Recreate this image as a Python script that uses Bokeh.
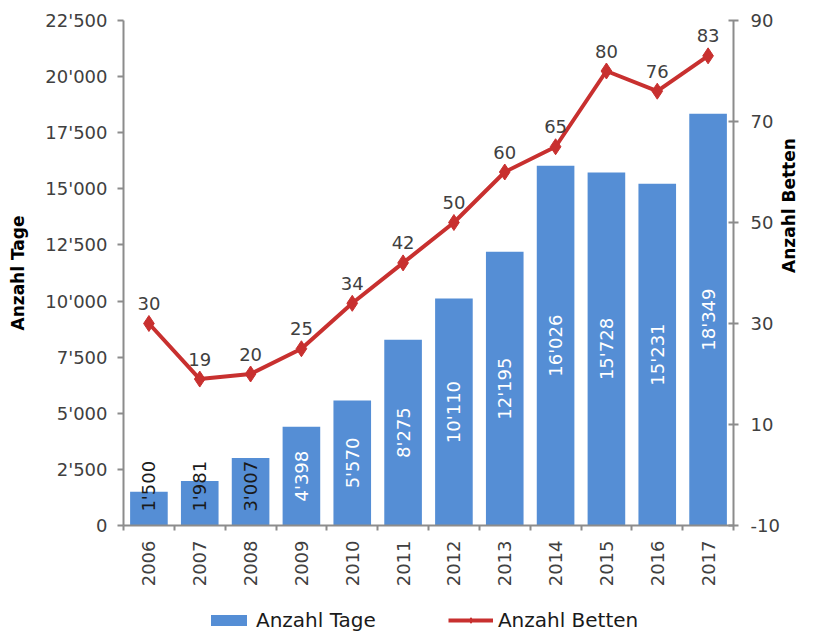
import math
from bokeh.plotting import figure
from bokeh.layouts import column
from bokeh.models import (Range1d, LinearAxis, FixedTicker, Legend, LegendItem,
                          ColumnDataSource)
from bokeh.core.properties import value
from bokeh.embed import file_html
from bokeh.resources import INLINE

# ---- data ----
years = [2006, 2007, 2008, 2009, 2010, 2011, 2012, 2013, 2014, 2015, 2016, 2017]
tage = [1500, 1981, 3007, 4398, 5570, 8275, 10110, 12195, 16026, 15728, 15231, 18349]
betten = [30, 19, 20, 25, 34, 42, 50, 60, 65, 80, 76, 83]
left_ticks = [0, 2500, 5000, 7500, 10000, 12500, 15000, 17500, 20000, 22500]
left_tick_labels = ["0", "2'500", "5'000", "7'500", "10'000", "12'500",
                    "15'000", "17'500", "20'000", "22'500"]
right_ticks = [-10, 10, 30, 50, 70, 90]
right_tick_labels = ["-10", "10", "30", "50", "70", "90"]

FONT = "DejaVu Sans"
BAR = "#558ed5"
RED = "#c8302f"
AXIS = "#8c8c8c"
TXT = "#404040"

def fmt(v):
    return f"{v:,}".replace(",", "'")

xpos = list(range(1, len(years) + 1))
MIN_CENTER = 1750  # labels of short bars are lifted so they stay readable
src = ColumnDataSource(dict(
    x=xpos,
    tage=tage,
    betten=betten,
    tage_label=[fmt(v) for v in tage],
    tage_label_y=[max(v / 2, MIN_CENTER) for v in tage],
    tage_label_color=["white" if v > 4000 else "#1a1a1a" for v in tage],
    betten_label=[str(v) for v in betten],
))

W = 814
p = figure(width=W, height=597, x_range=Range1d(0.5, len(years) + 0.5),
           y_range=Range1d(left_ticks[0], left_ticks[-1]),
           output_backend="svg", toolbar_location=None,
           min_border_left=123, min_border_right=81, min_border_top=20,
           min_border_bottom=72)
p.outline_line_color = None
p.xgrid.visible = False
p.ygrid.visible = False
p.extra_y_ranges = {"betten": Range1d(right_ticks[0], right_ticks[-1])}

def style_axis(ax):
    ax.axis_line_color = AXIS
    ax.axis_line_width = 2
    ax.major_tick_line_color = AXIS
    ax.major_tick_line_width = 2
    ax.minor_tick_line_color = None
    ax.major_label_text_color = TXT
    ax.major_label_text_font = FONT
    ax.major_label_text_font_size = "18px"
    ax.axis_label_text_font = FONT
    ax.axis_label_text_font_size = "17px"
    ax.axis_label_text_font_style = "bold"
    ax.axis_label_text_color = "black"

# x axis
xa = p.xaxis[0]
style_axis(xa)
xa.ticker = FixedTicker(ticks=xpos, minor_ticks=[i + 0.5 for i in range(len(years) + 1)])
xa.major_label_overrides = {i: str(y) for i, y in zip(xpos, years)}
xa.major_label_orientation = math.pi / 2
xa.major_tick_out = 0
xa.major_tick_in = 0
xa.minor_tick_line_color = AXIS
xa.minor_tick_line_width = 2
xa.minor_tick_out = 5
xa.minor_tick_in = 0
xa.major_label_standoff = 10

# left axis
ya = p.yaxis[0]
style_axis(ya)
ya.ticker = FixedTicker(ticks=left_ticks)
ya.major_label_overrides = {t: l for t, l in zip(left_ticks, left_tick_labels)}
ya.major_tick_out = 6
ya.major_tick_in = 0
ya.major_label_standoff = 10
ya.axis_label = "Anzahl Tage"
ya.axis_label_standoff = 14

# right axis (ticks and numbers)
ra = LinearAxis(y_range_name="betten", ticker=FixedTicker(ticks=right_ticks))
style_axis(ra)
ra.major_label_overrides = {t: l for t, l in zip(right_ticks, right_tick_labels)}
ra.major_tick_out = 5
ra.major_tick_in = 5
ra.major_label_standoff = 12
p.add_layout(ra, "right")

# right axis title, reading upwards; its start sits a bit below the middle
TITLE_BOUNDS = (-10, 56)
rt = LinearAxis(y_range_name="betten", ticker=FixedTicker(ticks=[]),
                bounds=TITLE_BOUNDS)
style_axis(rt)
rt.axis_line_color = None
rt.major_tick_line_color = None
rt.major_tick_out = 0
rt.major_tick_in = 0
rt.axis_label = "Anzahl Betten"
rt.axis_label_standoff = 6
rt.axis_label_orientation = math.pi / 2
p.add_layout(rt, "right")

# bars
bars = p.vbar(x="x", top="tage", width=0.74, source=src,
              fill_color=BAR, line_color=None)
p.text(x="x", y="tage_label_y", text="tage_label", source=src,
       angle=math.pi / 2, text_align="center", text_baseline="middle",
       text_color="tage_label_color", text_font=value(FONT), text_font_size="18px")

# line
line = p.line(x="x", y="betten", source=src, y_range_name="betten",
              line_color=RED, line_width=4)
marks = p.scatter(x="x", y="betten", source=src, y_range_name="betten",
                  marker="diamond", size=16, fill_color=RED, line_color=RED)
p.text(x="x", y="betten", text="betten_label", source=src, y_range_name="betten",
       text_align="center", text_baseline="alphabetic", y_offset=-20,
       text_color=TXT, text_font=value(FONT), text_font_size="18px")

# legend strip below the chart: same series as hidden renderers, only the legend shows
lg = figure(width=W, height=35, x_range=p.x_range, y_range=Range1d(-2, -1),
            output_backend="svg", toolbar_location=None,
            x_axis_location=None, y_axis_location=None, min_border=0)
lg.outline_line_color = None
lg.xgrid.visible = False
lg.ygrid.visible = False
lbar = lg.vbar(x="x", top="tage", width=0.74, source=src, fill_color=BAR, line_color=None)
lline = lg.line(x="x", y="betten", source=src, line_color=RED, line_width=4)
lmark = lg.scatter(x="x", y="betten", source=src, marker="diamond", size=16,
                   fill_color=RED, line_color=RED)
for r in (lbar, lline, lmark):
    r.visible = False
legend = Legend(items=[LegendItem(label="Anzahl Tage", renderers=[lbar]),
                       LegendItem(label="Anzahl Betten", renderers=[lline, lmark])],
                orientation="horizontal", location=(83, 0),
                border_line_color=None, background_fill_alpha=0,
                label_text_font=FONT, label_text_font_size="20px",
                label_text_color="#1a1a1a", inactive_fill_alpha=0,
                glyph_width=45, glyph_height=14, spacing=72, label_standoff=5,
                padding=2, margin=0)
lg.add_layout(legend, "center")

layout = column(p, lg, spacing=0)
open("out.html", "w").write(file_html(layout, INLINE))
